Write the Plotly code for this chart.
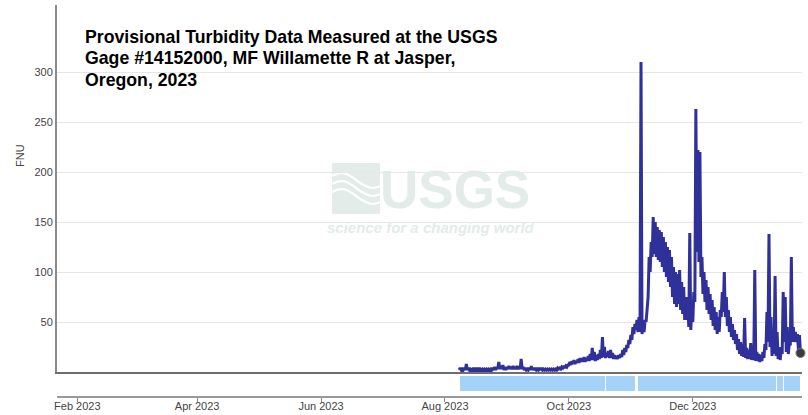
import pandas as pd
import plotly.graph_objects as go

# ---------------- data ----------------
# daily low / high turbidity (FNU), Aug 8 2023 .. Jan 22 2024
aug_low  = [2,2,2,2,2,2,2,2,2,2, 2,2,2,2,2,2,2,2,2,3, 3,3,2,2]
aug_high = [4,3,4,8,4,3,3,4,3,4, 3,3,3,3,3,3,4,5,5,10, 6,7,5,5]
sep_low  = [3,3,3,3,3,3,3,3,2,2, 2,2,2,2,2,2,2,2,2,2, 2,2,2,2,2,3,3,4,4,5]
sep_high = [6,5,6,5,6,5,13,5,4,3, 4,6,4,4,3,4,4,3,3,3, 3,3,3,3,4,4,5,6,6,7]
oct_low  = [7,7,8,8,9,9,10,10,10,11, 11,12,12,11,12,13,14,15,14,15,
            14,14,13,13,13,14,15,17,20,24, 28]
oct_high = [10,11,12,11,13,14,14,15,14,16, 18,24,20,17,18,22,35,25,19,21,
            22,19,17,16,17,18,22,24,27,32, 37]
nov_low  = [32,38,42,40,40,38,40,50,75,100, 115,118,115,112,110,105,100,95,90,85,
            75,68,65,68,62,58,52,52,45,42]
nov_high = [45,48,52,55,310,48,52,65,115,130, 155,150,145,142,140,135,130,125,122,115,
            105,100,98,102,90,85,75,75,139,62]
dec_low  = [50,70,120,110,95,78,70,62,58,52, 46,42,38,40,55,60,55,46,40,35,
            32,28,22,18,16,15,14,13,13,12, 12]
dec_high = [80,263,222,220,115,100,92,85,78,72, 65,60,55,62,80,100,75,62,55,48,
            42,38,33,30,28,54,24,22,29,20, 102]
jan_low  = [11,11,10,11,14,22,30,25,16,18, 16,13,12,18,30,20,18,28,30,30, 30,22]
jan_high = [20,18,17,20,28,60,138,55,42,96, 40,25,22,80,75,45,28,115,45,40, 38,37]
last_date = "2024-01-23 00:00"
last_value = 19

# approval-status strip segments
seg_start = ["2023-08-08 12:00", "2023-10-19 01:00", "2023-11-04 05:00",
             "2024-01-11 15:00", "2024-01-14 21:00"]
seg_end   = ["2023-10-19 01:00", "2023-11-03 02:00", "2024-01-11 15:00",
             "2024-01-14 21:00", "2024-01-23 12:00"]

tick_dates = ["2023-02-01", "2023-04-01", "2023-06-01", "2023-08-01",
              "2023-10-01", "2023-12-01"]
y_ticks = [50, 100, 150, 200, 250, 300]

title_lines = ["Provisional Turbidity Data Measured at the USGS",
               "Gage #14152000, MF Willamette R at Jasper,",
               "Oregon, 2023"]

# ---------------- build series ----------------
low = aug_low + sep_low + oct_low + nov_low + dec_low + jan_low
high = aug_high + sep_high + oct_high + nov_high + dec_high + jan_high
days = pd.date_range("2023-08-08", periods=len(low), freq="D")
xs, ys = [], []
for d, lo, hi in zip(days, low, high):
    xs += [d, d + pd.Timedelta(hours=12)]
    ys += [lo, hi]
xs.append(pd.Timestamp(last_date))
ys.append(last_value)

starts = pd.to_datetime(seg_start)
ends = pd.to_datetime(seg_end)
durations = [(e - s).total_seconds() * 1000 for s, e in zip(starts, ends)]

# ---------------- layout helpers ----------------
W, H = 808, 415
L, R, T, B = 57, 6, 5, 19
PW, PH = W - L - R, H - T - B


def px(x):
    return (x - L) / PW


def py(y):
    return (H - B - y) / PH


FONT = "Liberation Sans, Arial, sans-serif"
WM = "#e3ece9"
XRANGE = ["2023-01-22 00:00", "2024-01-23 18:00"]
main_bottom = py(372)

fig = go.Figure()
fig.add_trace(go.Scatter(x=xs, y=ys, mode="lines",
                         line=dict(color="#30309a", width=3),
                         xaxis="x", yaxis="y", hoverinfo="skip",
                         showlegend=False))
fig.add_trace(go.Scatter(x=[xs[-1]], y=[ys[-1]], mode="markers",
                         marker=dict(color="#3a3a3a", size=9,
                                     line=dict(color="#777", width=1)),
                         cliponaxis=False, xaxis="x", yaxis="y",
                         showlegend=False))
fig.add_trace(go.Bar(base=[s.strftime("%Y-%m-%d %H:%M") for s in starts],
                     x=durations, y=["a"] * len(durations), orientation="h",
                     marker=dict(color="#a5d2f9", line=dict(color="white", width=1)),
                     width=0.67, xaxis="x2", yaxis="y2", showlegend=False))

# watermark: USGS logo
shapes = [dict(type="rect", xref="paper", yref="paper",
               x0=px(332), x1=px(380), y0=py(214), y1=py(163),
               fillcolor=WM, line=dict(width=0), layer="below")]
for yy in (176, 184, 192):
    path = (f"M {px(332)},{py(yy)} C {px(345)},{py(yy - 8)} {px(352)},{py(yy + 2)} "
            f"{px(362)},{py(yy + 8)} S {px(375)},{py(yy + 12)} {px(380)},{py(yy + 10)}")
    shapes.append(dict(type="path", xref="paper", yref="paper", path=path,
                       line=dict(color="white", width=2.2), layer="below"))

annotations = [
    dict(text="USGS", x=px(378), y=py(189), xref="paper", yref="paper",
         xanchor="left", yanchor="middle", showarrow=False,
         font=dict(family=FONT, size=53, color=WM, weight="bold")),
    dict(text="<i>science for a changing world</i>", x=px(431), y=py(228),
         xref="paper", yref="paper", xanchor="center", yanchor="middle",
         showarrow=False,
         font=dict(family=FONT, size=15, color=WM, weight="bold")),
    dict(text="FNU", x=px(20), y=py(156), xref="paper", yref="paper",
         xanchor="center", yanchor="middle", textangle=-90, showarrow=False,
         font=dict(family=FONT, size=11, color="#444")),
]
for line_text, yc in zip(title_lines, (36.5, 58, 79.5)):
    annotations.append(dict(text=line_text, x=px(83), y=py(yc),
                            xref="paper", yref="paper", xanchor="left",
                            yanchor="middle", align="left", showarrow=False,
                            font=dict(family=FONT, size=17.7, color="#000",
                                      weight="bold")))

fig.update_layout(
    width=W, height=H,
    margin=dict(l=L, r=R, t=T, b=B, pad=0, autoexpand=False),
    paper_bgcolor="white", plot_bgcolor="white",
    font=dict(family=FONT, size=11, color="#444"),
    showlegend=False,
    xaxis=dict(domain=[0, 1], anchor="y", type="date", range=XRANGE,
               showticklabels=False, ticks="", showgrid=False, zeroline=False,
               showline=True, linecolor="#6e6e6e", linewidth=2,
               automargin=False),
    yaxis=dict(domain=[main_bottom, 1], anchor="x", range=[0, 367],
               tickvals=y_ticks, ticks="", showgrid=True, gridcolor="#e6e6e6",
               gridwidth=1, zeroline=False, showline=True,
               linecolor="#8a8a8a", linewidth=2, automargin=False,
               tickfont=dict(size=11, color="#444")),
    xaxis2=dict(domain=[0, 1], anchor="y2", type="date", range=XRANGE,
                tickvals=tick_dates, tickformat="%b %Y", ticks="outside",
                ticklen=4, tickcolor="#888", tickwidth=1, showgrid=False,
                zeroline=False, showline=True, linecolor="#999", linewidth=2,
                ticklabelstandoff=-5,
                automargin=False, tickfont=dict(size=11, color="#444")),
    yaxis2=dict(domain=[0, main_bottom], anchor="x2", range=[-0.5, 0.5],
                visible=False, type="category"),
    shapes=shapes, annotations=annotations, bargap=0,
)

fig.write_html("out.html")
